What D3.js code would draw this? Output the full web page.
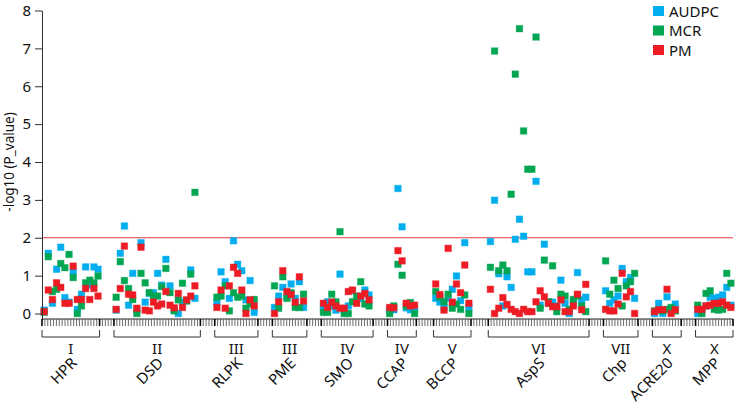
<!DOCTYPE html>
<html>
<head>
<meta charset="utf-8">
<script src="https://cdn.jsdelivr.net/npm/d3@7"></script>
<style>
  html, body { margin: 0; padding: 0; background: #fff; }
  #chart svg { display: block; font-family: "Noto Sans", "DejaVu Sans", sans-serif; }
</style>
</head>
<body>
<div id="chart"></div>
<script>
// --- Data ---
const groupNames = ['HPR', 'DSD', 'RLPK', 'PME', 'SMO', 'CCAP', 'BCCP', 'AspS', 'Chp', 'ACRE20', 'MPP'];
const groupNumerals = ['I', 'II', 'III', 'III', 'IV', 'IV', 'V', 'VI', 'VII', 'X', 'X'];
const traits = ['AUDPC', 'MCR', 'PM'];
const yTicks = [0, 1, 2, 3, 4, 5, 6, 7, 8];
const threshold = 2;

// -log10(p) per SNP, one inner array per gene group
const audpc = [
  [0.09, 1.59, 0.27, 1.17, 1.75, 0.42, 0.3, 1.1, 0.11, 0.51, 1.23, 0.75, 1.23, 1.17],
  [0.09, 1.59, 2.31, 0.22, 1.06, 0.1, 1.87, 0.3, 0.53, 0.55, 1.06, 0.75, 1.43, 0.73, 0.1, 0.0, 0.3, 0.35, 1.15, 0.4],
  [0.3, 1.1, 0.84, 0.4, 1.92, 1.3, 1.13, 0.36, 0.87, 0.03],
  [0.16, 0.46, 0.69, 0.44, 0.78, 0.4, 0.84, 0.16],
  [0.16, 0.31, 0.2, 0.09, 1.04, 0.09, 0.2, 0.6, 0.31, 0.4, 0.62, 0.49],
  [0.09, 0.1, 3.3, 2.29, 0.15, 0.1, 0.11],
  [0.4, 0.3, 0.16, 0.4, 0.64, 0.99, 0.34, 1.87, 0.16],
  [1.9, 2.99, 1.05, 0.2, 0.97, 0.69, 1.96, 2.49, 2.04, 1.1, 1.1, 3.49, 0.22, 1.83, 0.27, 0.3, 0.2, 0.88, 0.27, 0.0, 0.27, 1.08, 0.36, 0.43],
  [0.6, 0.27, 0.36, 0.46, 1.19, 0.84, 0.95, 0.4],
  [0.0, 0.27, 0.0, 0.44, 0.1, 0.25],
  [0.0, 0.1, 0.2, 0.43, 0.4, 0.43, 0.49, 0.69, 0.22]
];
const mcr = [
  [0.03, 1.5, 0.58, 0.64, 1.32, 1.21, 1.56, 0.95, 0.0, 0.2, 0.81, 0.88, 0.81, 0.99],
  [0.43, 1.37, 0.87, 0.66, 0.37, 0.0, 1.06, 0.81, 0.55, 0.46, 0.46, 0.71, 1.19, 0.55, 0.07, 0.36, 0.8, 0.33, 1.04, 3.2],
  [0.43, 0.46, 0.73, 0.07, 0.55, 0.43, 0.46, 0.14, 0.25, 0.37],
  [0.73, 0.14, 0.97, 0.4, 0.55, 0.16, 0.16, 0.51],
  [0.03, 0.03, 0.51, 0.31, 2.16, 0.0, 0.0, 0.31, 0.46, 0.84, 0.25, 0.2],
  [0.0, 0.2, 1.3, 1.01, 0.2, 0.29, 0.0],
  [0.58, 0.43, 0.31, 0.51, 0.14, 0.25, 0.11, 0.49, 0.0],
  [1.22, 6.93, 1.13, 1.28, 1.13, 3.15, 6.32, 7.52, 4.82, 3.81, 3.81, 7.3, 0.14, 1.41, 0.31, 1.26, 0.05, 0.51, 0.46, 0.11, 0.37, 0.46, 0.2, 0.05],
  [1.39, 0.51, 0.88, 0.66, 0.2, 0.73, 0.84, 1.06],
  [0.07, 0.09, 0.07, 0.11, 0.16, 0.07],
  [0.22, 0.0, 0.53, 0.6, 0.11, 0.09, 0.11, 1.06, 0.8]
];
const pm = [
  [0.05, 0.62, 0.37, 0.81, 0.69, 0.27, 0.27, 1.25, 0.37, 0.37, 0.66, 0.37, 0.66, 0.46],
  [0.11, 0.66, 1.78, 0.51, 0.49, 0.14, 1.75, 0.09, 0.07, 0.3, 0.2, 0.25, 0.58, 0.22, 0.15, 0.53, 0.16, 0.36, 0.46, 0.73],
  [0.16, 0.62, 0.14, 0.73, 1.22, 1.06, 0.62, 0.0, 0.36, 0.2],
  [0.0, 0.31, 1.13, 0.58, 0.5, 0.3, 0.97, 0.33],
  [0.27, 0.16, 0.3, 0.2, 0.14, 0.14, 0.58, 0.62, 0.27, 0.46, 0.53, 0.36],
  [0.16, 0.15, 1.66, 1.39, 0.27, 0.2, 0.22],
  [0.78, 0.5, 0.09, 1.72, 0.3, 0.78, 0.55, 1.28, 0.27],
  [0.64, 0.0, 0.14, 0.42, 0.24, 0.11, 0.05, 0.0, 0.11, 0.05, 0.05, 0.31, 0.6, 0.44, 0.27, 0.18, 0.18, 0.36, 0.05, 0.05, 0.2, 0.51, 0.1, 0.77],
  [0.11, 0.07, 0.07, 0.25, 1.06, 0.44, 0.58, 0.0],
  [0.05, 0.1, 0.1, 0.64, 0.0, 0.1],
  [0.11, 0.11, 0.2, 0.22, 0.27, 0.27, 0.31, 0.22, 0.16]
];

// --- Layout ---
const width = 737, height = 411;
const colors = { AUDPC: '#00aeef', MCR: '#00a651', PM: '#ed1c24' };
const axisTicks = 240;              // marker ticks along the x axis
const groupSpan = [[0, 20], [25, 55], [60, 75], [80, 92], [97, 115], [120, 130],
                   [136, 149], [155, 190], [195, 207], [212, 222], [227, 240]];
const snpStep = 1.44, snpInset = 0.75, box = 6.6;

const svg = d3.select('#chart').append('svg')
  .attr('width', width).attr('height', height);

const x = d3.scaleLinear().domain([0, axisTicks]).range([42, 733]);
const y = d3.scaleLinear().domain([-0.15, 8]).range([319.2, 10.5]);
const axisY = 319;

// flatten into points
const series = { AUDPC: audpc, MCR: mcr, PM: pm };
const points = [];
traits.forEach(t => {
  series[t].forEach((vals, g) => {
    vals.forEach((v, i) => {
      points.push({ trait: t, value: v, pos: groupSpan[g][0] + snpInset + i * snpStep });
    });
  });
});

// threshold line
svg.append('line')
  .attr('x1', x(0)).attr('x2', x(axisTicks))
  .attr('y1', y(threshold)).attr('y2', y(threshold))
  .attr('stroke', '#ee3a3f').attr('stroke-width', 1.2);

// points
svg.append('g').selectAll('rect')
  .data(points)
  .join('rect')
  .attr('x', d => x(d.pos) - box / 2)
  .attr('y', d => y(d.value) - box / 2)
  .attr('width', box).attr('height', box)
  .attr('fill', d => colors[d.trait])
  .attr('stroke', d => colors[d.trait])
  .attr('stroke-opacity', 0.35)
  .attr('stroke-width', 1);

// y axis
const yAxis = svg.append('g')
  .attr('transform', `translate(${x(0)},0)`)
  .call(d3.axisLeft(y).tickValues(yTicks).tickSize(7).tickSizeOuter(0).tickFormat(d3.format('d')));
yAxis.select('.domain').attr('stroke', '#333');
yAxis.selectAll('.tick line').attr('stroke', '#333');
yAxis.selectAll('.tick text')
  .attr('font-size', 15).attr('fill', '#111').attr('x', -11)
  .attr('font-family', '"Noto Sans", sans-serif');

svg.append('text')
  .attr('transform', `translate(14,${y(4)}) rotate(-90)`)
  .attr('text-anchor', 'middle')
  .attr('font-size', 13.5).attr('fill', '#111')
  .text('-log10 (P_value)');

// x axis: baseline with a tick for every position, darker at group bounds
const majors = new Set(groupSpan.flat());
svg.append('line')
  .attr('x1', x(0)).attr('x2', x(axisTicks))
  .attr('y1', axisY).attr('y2', axisY)
  .attr('stroke', '#222').attr('stroke-width', 1);
svg.append('g').selectAll('line')
  .data(d3.range(0, axisTicks + 1))
  .join('line')
  .attr('x1', d => x(d)).attr('x2', d => x(d))
  .attr('y1', axisY).attr('y2', axisY + 7)
  .attr('stroke', d => majors.has(d) ? '#000' : '#444')
  .attr('stroke-width', d => majors.has(d) ? 1.6 : 0.8);

// group brackets and labels
const grp = svg.append('g').selectAll('g')
  .data(groupNames.map((name, i) => ({ name, num: groupNumerals[i], span: groupSpan[i] })))
  .join('g');
grp.append('path')
  .attr('d', d => `M${x(d.span[0])},330V337H${x(d.span[1])}V330`)
  .attr('fill', 'none').attr('stroke', '#333').attr('stroke-width', 1);
grp.append('text')
  .attr('x', d => (x(d.span[0]) + x(d.span[1])) / 2)
  .attr('y', 354)
  .attr('text-anchor', 'middle')
  .attr('font-size', 15).attr('fill', '#111')
  .text(d => d.num);
grp.append('text')
  .attr('transform', d => `translate(${(x(d.span[0]) + x(d.span[1])) / 2 + 7},364) rotate(-45)`)
  .attr('text-anchor', 'end')
  .attr('font-size', 15).attr('fill', '#111')
  .text(d => d.name);

// legend
const legend = svg.append('g').selectAll('g')
  .data(traits)
  .join('g')
  .attr('transform', (d, i) => `translate(653,${11 + i * 19.5})`);
legend.append('rect')
  .attr('x', 0).attr('y', -5).attr('width', 11).attr('height', 10)
  .attr('fill', d => colors[d]);
legend.append('text')
  .attr('x', 16).attr('y', 5.5)
  .attr('font-size', 15).attr('fill', '#111')
  .text(d => d);
</script>
</body>
</html>
